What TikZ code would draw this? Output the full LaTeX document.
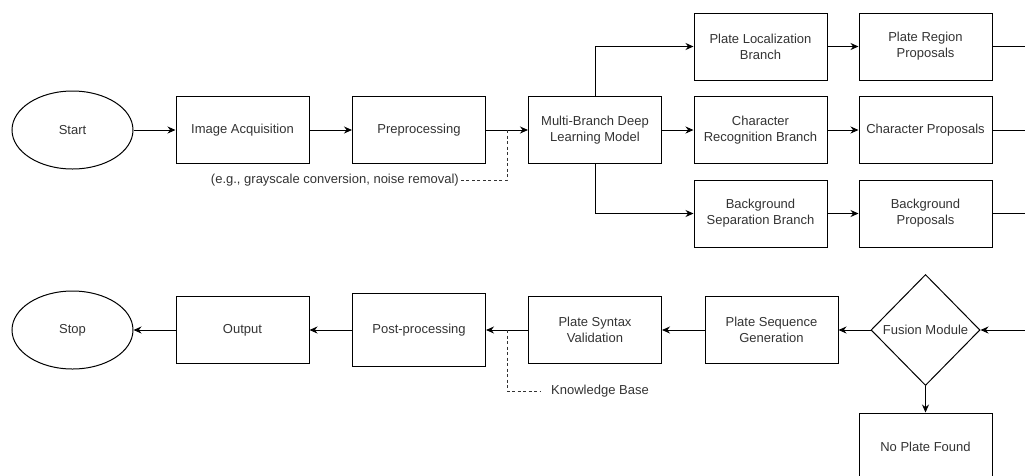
\documentclass[tikz,border=0pt]{standalone}
\usepackage{fontspec}
\setmainfont{Liberation Sans}
\usetikzlibrary{shapes.geometric,arrows.meta}

\begin{document}
\begin{tikzpicture}[x=1pt,y=-1pt,
  every node/.style={font=\fontsize{13}{16}\selectfont, text=black!80, align=center, inner sep=2pt},
  box/.style={draw, rectangle, line width=1pt, minimum width=133pt, minimum height=67pt},
  term/.style={draw, ellipse, line width=1pt, minimum width=121pt, minimum height=78pt},
  decide/.style={draw, diamond, line width=1pt, minimum width=109pt, minimum height=111pt, inner sep=0pt},
  flow/.style={line width=1pt, -{Stealth[length=8pt,width=7pt]}},
  link/.style={line width=1pt},
  note/.style={line width=0.8pt, black!80, dash pattern=on 3pt off 2.5pt}]
\useasboundingbox (0,0) rectangle (1025,475);
\node[term] (start) at (72.5,130) {Start};
\node[box] (acq) at (242.5,130) {Image Acquisition};
\node[box] (pre) at (419,130) {Preprocessing};
\node[box] (mbdl) at (595,130) {Multi-Branch Deep\\Learning Model};
\node[box] (locb) at (760.5,46.5) {Plate Localization\\Branch};
\node[box] (recb) at (760.5,130) {Character\\Recognition Branch};
\node[box] (sepb) at (760.5,213.5) {Background\\Separation Branch};
\node[box] (regp) at (925.5,46.5) {Plate Region\\Proposals};
\node[box] (charp) at (925.5,130) {Character Proposals};
\node[box] (bgp) at (925.5,213.5) {Background\\Proposals};
\node[decide] (fusion) at (925.5,330) {Fusion Module};
\node[box] (seqgen) at (771.5,330) {Plate Sequence\\Generation};
\node[box] (syntax) at (595,330) {Plate Syntax\\Validation};
\node[box, minimum height=73pt] (post) at (419,330) {Post-processing};
\node[box] (out) at (242.5,330) {Output};
\node[term] (stop) at (72.5,330) {Stop};
\node[box] (nofound) at (925.5,446.5) {No Plate Found};
\node[anchor=east] (eg) at (461,180) {(e.g., grayscale conversion, noise removal)};
\node[anchor=west] (kb) at (549,391) {Knowledge Base};
\coordinate (regend) at (1025,46.5);
\coordinate (charend) at (1025,130);
\coordinate (bgend) at (1025,213.5);
\coordinate (fusin) at (1025,330);
\coordinate (pretap) at (507,130);
\coordinate (kbtap) at (507,330);
\draw[flow] (start) -- (acq);
\draw[flow] (acq) -- (pre);
\draw[flow] (pre) -- (mbdl);
\draw[flow] (mbdl.north) |- (locb);
\draw[flow] (mbdl) -- (recb);
\draw[flow] (mbdl.south) |- (sepb);
\draw[flow] (locb) -- (regp);
\draw[flow] (recb) -- (charp);
\draw[flow] (sepb) -- (bgp);
\draw[link] (regp) -- (regend);
\draw[link] (charp) -- (charend);
\draw[link] (bgp) -- (bgend);
\draw[flow] (fusin) -- (fusion);
\draw[flow] (fusion) -- (seqgen);
\draw[flow] (seqgen) -- (syntax);
\draw[flow] (syntax) -- (post);
\draw[flow] (post) -- (out);
\draw[flow] (out) -- (stop);
\draw[flow] (fusion) -- (nofound);
\draw[note] (pretap) |- (eg);
\draw[note] (kbtap) |- ([xshift=-8pt]kb.west);
\end{tikzpicture}
\end{document}
